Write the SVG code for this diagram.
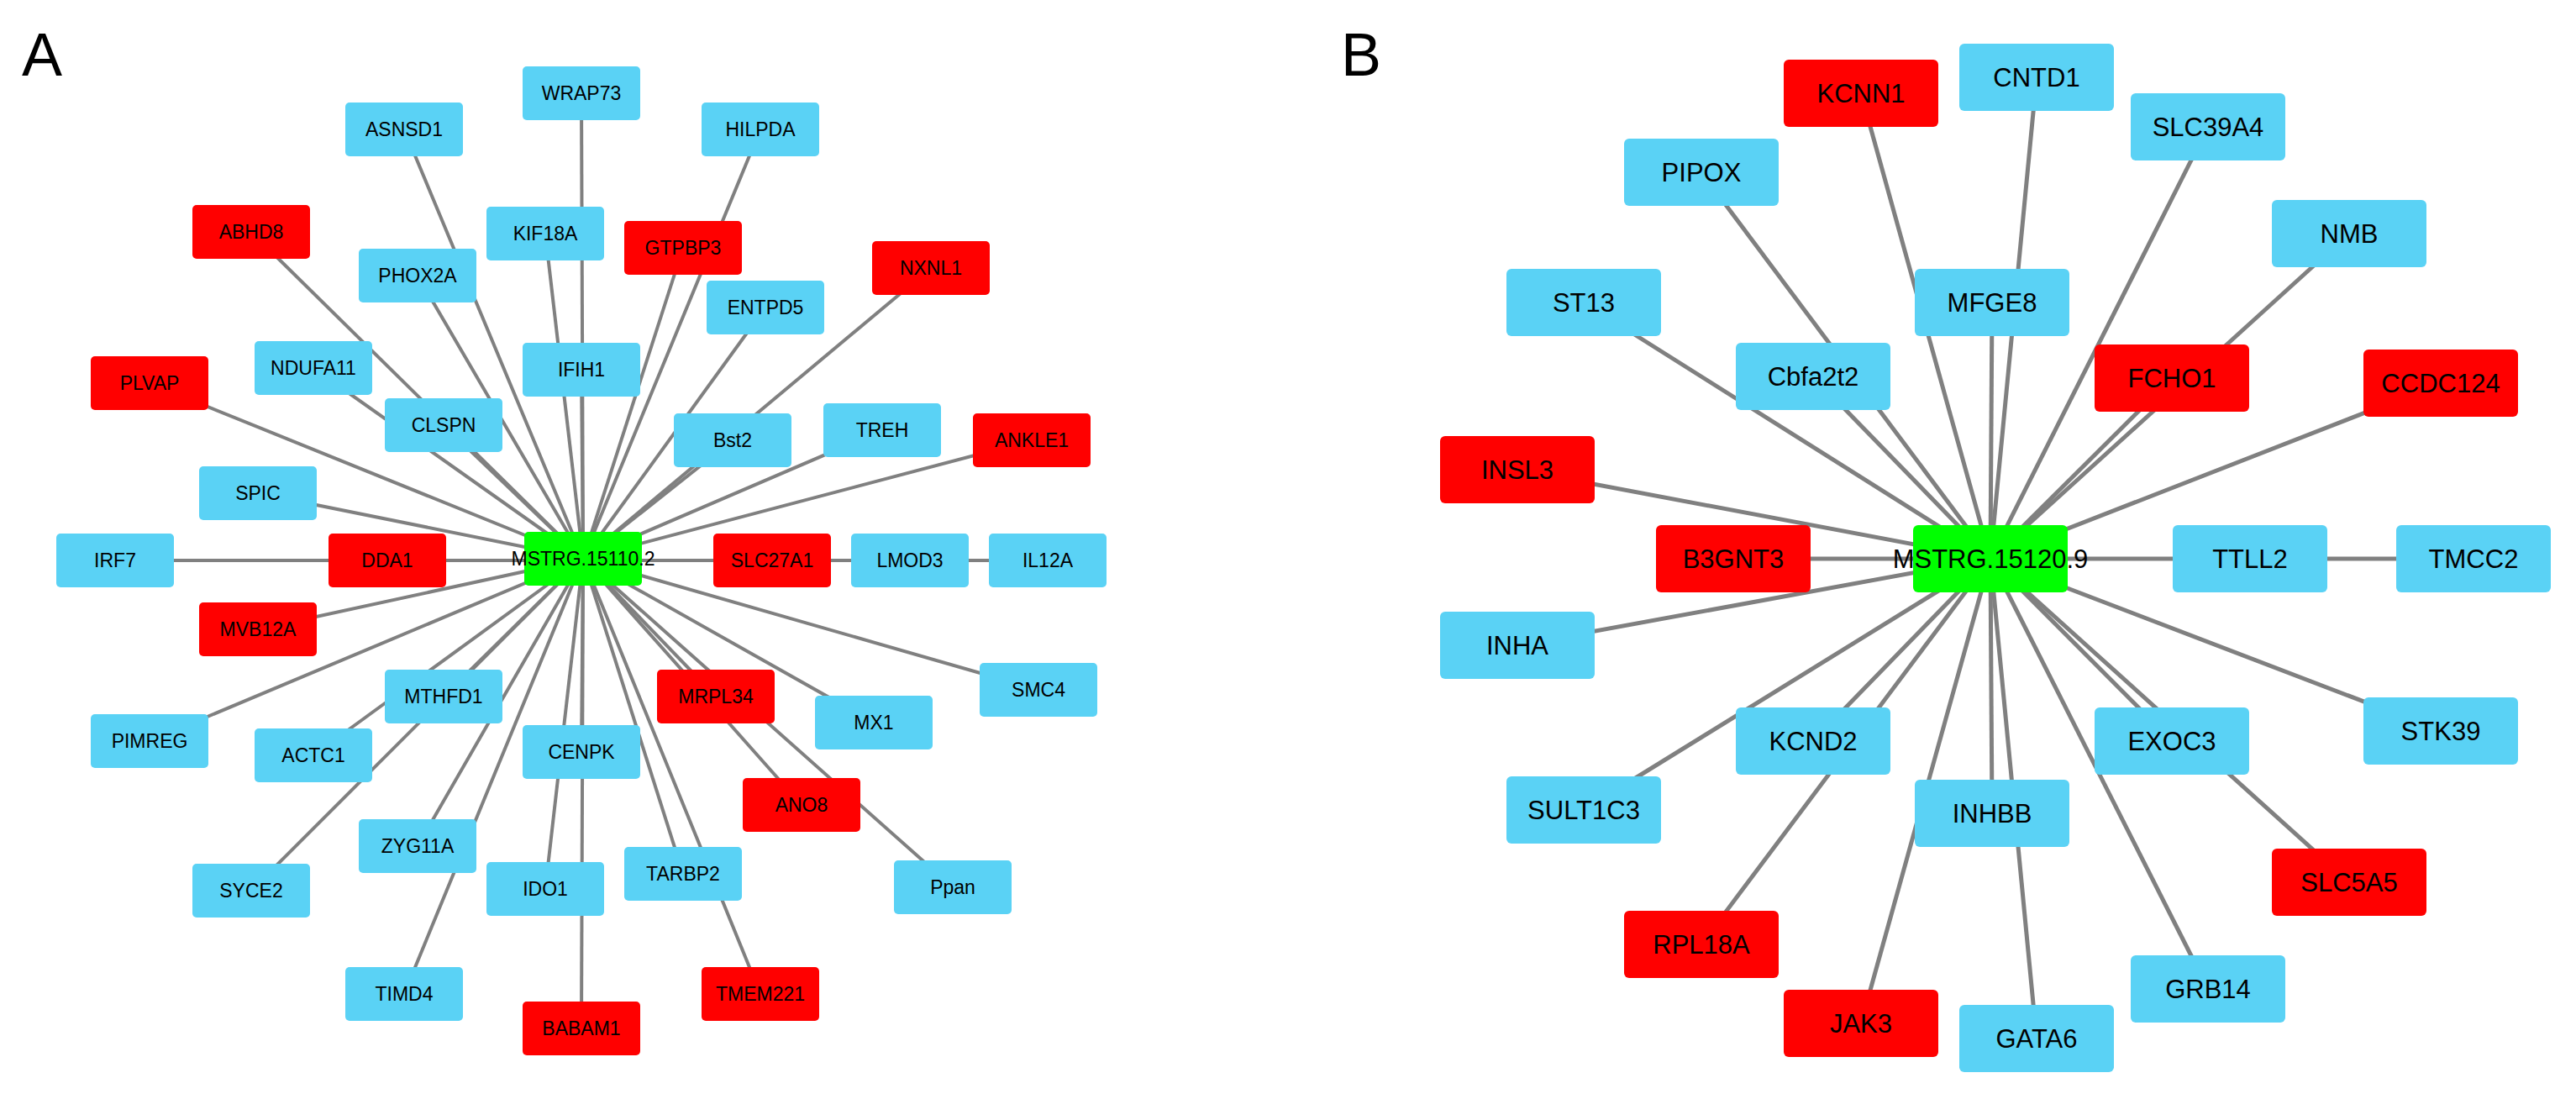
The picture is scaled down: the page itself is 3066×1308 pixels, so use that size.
<svg xmlns="http://www.w3.org/2000/svg" width="3066" height="1308" viewBox="0 0 3066 1308">
<style>
.a rect{width:140px;height:64px}
.b{fill:#5AD2F5}.r{fill:#FF0000}.g{fill:#00FF00}
text{font-family:"Liberation Sans",Arial,sans-serif;text-anchor:middle;dominant-baseline:central;fill:#000}
.ta{font-size:23px}.tb{font-size:31px}
.ea line{stroke:#808080;stroke-width:4}
.eb line{stroke:#808080;stroke-width:5}
</style>
<rect width="3066" height="1308" fill="#fff"/>
<text x="50" y="65" style="font-size:72px">A</text>
<text x="1620" y="65" style="font-size:72px">B</text>
<g id="edges-A" class="ea">
<line x1="694" y1="665" x2="692" y2="111"/><line x1="694" y1="665" x2="481" y2="154"/><line x1="694" y1="665" x2="905" y2="154"/><line x1="694" y1="665" x2="299" y2="276"/><line x1="694" y1="665" x2="649" y2="278"/><line x1="694" y1="665" x2="813" y2="295"/><line x1="694" y1="665" x2="1108" y2="319"/><line x1="694" y1="665" x2="497" y2="328"/><line x1="694" y1="665" x2="911" y2="366"/><line x1="694" y1="665" x2="373" y2="438"/><line x1="694" y1="665" x2="692" y2="440"/><line x1="694" y1="665" x2="178" y2="456"/><line x1="694" y1="665" x2="528" y2="506"/><line x1="694" y1="665" x2="872" y2="524"/><line x1="694" y1="665" x2="1050" y2="512"/><line x1="694" y1="665" x2="1228" y2="524"/><line x1="694" y1="665" x2="307" y2="587"/><line x1="694" y1="667" x2="137" y2="667"/><line x1="694" y1="667" x2="1247" y2="667"/><line x1="694" y1="665" x2="307" y2="749"/><line x1="694" y1="665" x2="528" y2="829"/><line x1="694" y1="665" x2="852" y2="829"/><line x1="694" y1="665" x2="1040" y2="860"/><line x1="694" y1="665" x2="1236" y2="821"/><line x1="694" y1="665" x2="178" y2="882"/><line x1="694" y1="665" x2="373" y2="899"/><line x1="694" y1="665" x2="692" y2="895"/><line x1="694" y1="665" x2="954" y2="958"/><line x1="694" y1="665" x2="497" y2="1007"/><line x1="694" y1="665" x2="813" y2="1040"/><line x1="694" y1="665" x2="649" y2="1058"/><line x1="694" y1="665" x2="299" y2="1060"/><line x1="694" y1="665" x2="1134" y2="1056"/><line x1="694" y1="665" x2="481" y2="1183"/><line x1="694" y1="665" x2="905" y2="1183"/><line x1="694" y1="665" x2="692" y2="1224"/>
</g>
<g id="edges-B" class="eb">
<line x1="2369" y1="665" x2="2215" y2="111"/><line x1="2369" y1="665" x2="2424" y2="92"/><line x1="2369" y1="665" x2="2628" y2="151"/><line x1="2369" y1="665" x2="2025" y2="205"/><line x1="2369" y1="665" x2="2796" y2="278"/><line x1="2369" y1="665" x2="1885" y2="360"/><line x1="2369" y1="665" x2="2371" y2="360"/><line x1="2369" y1="665" x2="2158" y2="448"/><line x1="2369" y1="665" x2="2585" y2="450"/><line x1="2369" y1="665" x2="2905" y2="456"/><line x1="2369" y1="665" x2="1806" y2="559"/><line x1="2369" y1="665" x2="2063" y2="665"/><line x1="2369" y1="665" x2="2944" y2="665"/><line x1="2369" y1="665" x2="1806" y2="768"/><line x1="2369" y1="665" x2="2905" y2="870"/><line x1="2369" y1="665" x2="2158" y2="882"/><line x1="2369" y1="665" x2="2585" y2="882"/><line x1="2369" y1="665" x2="1885" y2="964"/><line x1="2369" y1="665" x2="2371" y2="968"/><line x1="2369" y1="665" x2="2796" y2="1050"/><line x1="2369" y1="665" x2="2025" y2="1124"/><line x1="2369" y1="665" x2="2628" y2="1177"/><line x1="2369" y1="665" x2="2215" y2="1218"/><line x1="2369" y1="665" x2="2424" y2="1236"/>
</g>
<g class="ta">
<g id="MSTRG.15110.2"><rect class="g" x="624" y="633" width="140" height="64" rx="5"/><text x="694" y="665">MSTRG.15110.2</text></g>
<g id="WRAP73"><rect class="b" x="622" y="79" width="140" height="64" rx="5"/><text x="692" y="111">WRAP73</text></g>
<g id="ASNSD1"><rect class="b" x="411" y="122" width="140" height="64" rx="5"/><text x="481" y="154">ASNSD1</text></g>
<g id="HILPDA"><rect class="b" x="835" y="122" width="140" height="64" rx="5"/><text x="905" y="154">HILPDA</text></g>
<g id="ABHD8"><rect class="r" x="229" y="244" width="140" height="64" rx="5"/><text x="299" y="276">ABHD8</text></g>
<g id="KIF18A"><rect class="b" x="579" y="246" width="140" height="64" rx="5"/><text x="649" y="278">KIF18A</text></g>
<g id="GTPBP3"><rect class="r" x="743" y="263" width="140" height="64" rx="5"/><text x="813" y="295">GTPBP3</text></g>
<g id="NXNL1"><rect class="r" x="1038" y="287" width="140" height="64" rx="5"/><text x="1108" y="319">NXNL1</text></g>
<g id="PHOX2A"><rect class="b" x="427" y="296" width="140" height="64" rx="5"/><text x="497" y="328">PHOX2A</text></g>
<g id="ENTPD5"><rect class="b" x="841" y="334" width="140" height="64" rx="5"/><text x="911" y="366">ENTPD5</text></g>
<g id="NDUFA11"><rect class="b" x="303" y="406" width="140" height="64" rx="5"/><text x="373" y="438">NDUFA11</text></g>
<g id="IFIH1"><rect class="b" x="622" y="408" width="140" height="64" rx="5"/><text x="692" y="440">IFIH1</text></g>
<g id="PLVAP"><rect class="r" x="108" y="424" width="140" height="64" rx="5"/><text x="178" y="456">PLVAP</text></g>
<g id="CLSPN"><rect class="b" x="458" y="474" width="140" height="64" rx="5"/><text x="528" y="506">CLSPN</text></g>
<g id="Bst2"><rect class="b" x="802" y="492" width="140" height="64" rx="5"/><text x="872" y="524">Bst2</text></g>
<g id="TREH"><rect class="b" x="980" y="480" width="140" height="64" rx="5"/><text x="1050" y="512">TREH</text></g>
<g id="ANKLE1"><rect class="r" x="1158" y="492" width="140" height="64" rx="5"/><text x="1228" y="524">ANKLE1</text></g>
<g id="SPIC"><rect class="b" x="237" y="555" width="140" height="64" rx="5"/><text x="307" y="587">SPIC</text></g>
<g id="IRF7"><rect class="b" x="67" y="635" width="140" height="64" rx="5"/><text x="137" y="667">IRF7</text></g>
<g id="DDA1"><rect class="r" x="391" y="635" width="140" height="64" rx="5"/><text x="461" y="667">DDA1</text></g>
<g id="SLC27A1"><rect class="r" x="849" y="635" width="140" height="64" rx="5"/><text x="919" y="667">SLC27A1</text></g>
<g id="LMOD3"><rect class="b" x="1013" y="635" width="140" height="64" rx="5"/><text x="1083" y="667">LMOD3</text></g>
<g id="IL12A"><rect class="b" x="1177" y="635" width="140" height="64" rx="5"/><text x="1247" y="667">IL12A</text></g>
<g id="MVB12A"><rect class="r" x="237" y="717" width="140" height="64" rx="5"/><text x="307" y="749">MVB12A</text></g>
<g id="MTHFD1"><rect class="b" x="458" y="797" width="140" height="64" rx="5"/><text x="528" y="829">MTHFD1</text></g>
<g id="MRPL34"><rect class="r" x="782" y="797" width="140" height="64" rx="5"/><text x="852" y="829">MRPL34</text></g>
<g id="MX1"><rect class="b" x="970" y="828" width="140" height="64" rx="5"/><text x="1040" y="860">MX1</text></g>
<g id="SMC4"><rect class="b" x="1166" y="789" width="140" height="64" rx="5"/><text x="1236" y="821">SMC4</text></g>
<g id="PIMREG"><rect class="b" x="108" y="850" width="140" height="64" rx="5"/><text x="178" y="882">PIMREG</text></g>
<g id="ACTC1"><rect class="b" x="303" y="867" width="140" height="64" rx="5"/><text x="373" y="899">ACTC1</text></g>
<g id="CENPK"><rect class="b" x="622" y="863" width="140" height="64" rx="5"/><text x="692" y="895">CENPK</text></g>
<g id="ANO8"><rect class="r" x="884" y="926" width="140" height="64" rx="5"/><text x="954" y="958">ANO8</text></g>
<g id="ZYG11A"><rect class="b" x="427" y="975" width="140" height="64" rx="5"/><text x="497" y="1007">ZYG11A</text></g>
<g id="TARBP2"><rect class="b" x="743" y="1008" width="140" height="64" rx="5"/><text x="813" y="1040">TARBP2</text></g>
<g id="IDO1"><rect class="b" x="579" y="1026" width="140" height="64" rx="5"/><text x="649" y="1058">IDO1</text></g>
<g id="SYCE2"><rect class="b" x="229" y="1028" width="140" height="64" rx="5"/><text x="299" y="1060">SYCE2</text></g>
<g id="Ppan"><rect class="b" x="1064" y="1024" width="140" height="64" rx="5"/><text x="1134" y="1056">Ppan</text></g>
<g id="TIMD4"><rect class="b" x="411" y="1151" width="140" height="64" rx="5"/><text x="481" y="1183">TIMD4</text></g>
<g id="TMEM221"><rect class="r" x="835" y="1151" width="140" height="64" rx="5"/><text x="905" y="1183">TMEM221</text></g>
<g id="BABAM1"><rect class="r" x="622" y="1192" width="140" height="64" rx="5"/><text x="692" y="1224">BABAM1</text></g>
</g>
<g class="tb">
<g id="MSTRG.15120.9"><rect class="g" x="2277" y="625" width="184" height="80" rx="6"/><text x="2369" y="665">MSTRG.15120.9</text></g>
<g id="KCNN1"><rect class="r" x="2123" y="71" width="184" height="80" rx="6"/><text x="2215" y="111">KCNN1</text></g>
<g id="CNTD1"><rect class="b" x="2332" y="52" width="184" height="80" rx="6"/><text x="2424" y="92">CNTD1</text></g>
<g id="SLC39A4"><rect class="b" x="2536" y="111" width="184" height="80" rx="6"/><text x="2628" y="151">SLC39A4</text></g>
<g id="PIPOX"><rect class="b" x="1933" y="165" width="184" height="80" rx="6"/><text x="2025" y="205">PIPOX</text></g>
<g id="NMB"><rect class="b" x="2704" y="238" width="184" height="80" rx="6"/><text x="2796" y="278">NMB</text></g>
<g id="ST13"><rect class="b" x="1793" y="320" width="184" height="80" rx="6"/><text x="1885" y="360">ST13</text></g>
<g id="MFGE8"><rect class="b" x="2279" y="320" width="184" height="80" rx="6"/><text x="2371" y="360">MFGE8</text></g>
<g id="Cbfa2t2"><rect class="b" x="2066" y="408" width="184" height="80" rx="6"/><text x="2158" y="448">Cbfa2t2</text></g>
<g id="FCHO1"><rect class="r" x="2493" y="410" width="184" height="80" rx="6"/><text x="2585" y="450">FCHO1</text></g>
<g id="CCDC124"><rect class="r" x="2813" y="416" width="184" height="80" rx="6"/><text x="2905" y="456">CCDC124</text></g>
<g id="INSL3"><rect class="r" x="1714" y="519" width="184" height="80" rx="6"/><text x="1806" y="559">INSL3</text></g>
<g id="B3GNT3"><rect class="r" x="1971" y="625" width="184" height="80" rx="6"/><text x="2063" y="665">B3GNT3</text></g>
<g id="TTLL2"><rect class="b" x="2586" y="625" width="184" height="80" rx="6"/><text x="2678" y="665">TTLL2</text></g>
<g id="TMCC2"><rect class="b" x="2852" y="625" width="184" height="80" rx="6"/><text x="2944" y="665">TMCC2</text></g>
<g id="INHA"><rect class="b" x="1714" y="728" width="184" height="80" rx="6"/><text x="1806" y="768">INHA</text></g>
<g id="STK39"><rect class="b" x="2813" y="830" width="184" height="80" rx="6"/><text x="2905" y="870">STK39</text></g>
<g id="KCND2"><rect class="b" x="2066" y="842" width="184" height="80" rx="6"/><text x="2158" y="882">KCND2</text></g>
<g id="EXOC3"><rect class="b" x="2493" y="842" width="184" height="80" rx="6"/><text x="2585" y="882">EXOC3</text></g>
<g id="SULT1C3"><rect class="b" x="1793" y="924" width="184" height="80" rx="6"/><text x="1885" y="964">SULT1C3</text></g>
<g id="INHBB"><rect class="b" x="2279" y="928" width="184" height="80" rx="6"/><text x="2371" y="968">INHBB</text></g>
<g id="SLC5A5"><rect class="r" x="2704" y="1010" width="184" height="80" rx="6"/><text x="2796" y="1050">SLC5A5</text></g>
<g id="RPL18A"><rect class="r" x="1933" y="1084" width="184" height="80" rx="6"/><text x="2025" y="1124">RPL18A</text></g>
<g id="GRB14"><rect class="b" x="2536" y="1137" width="184" height="80" rx="6"/><text x="2628" y="1177">GRB14</text></g>
<g id="JAK3"><rect class="r" x="2123" y="1178" width="184" height="80" rx="6"/><text x="2215" y="1218">JAK3</text></g>
<g id="GATA6"><rect class="b" x="2332" y="1196" width="184" height="80" rx="6"/><text x="2424" y="1236">GATA6</text></g>
</g>
</svg>
